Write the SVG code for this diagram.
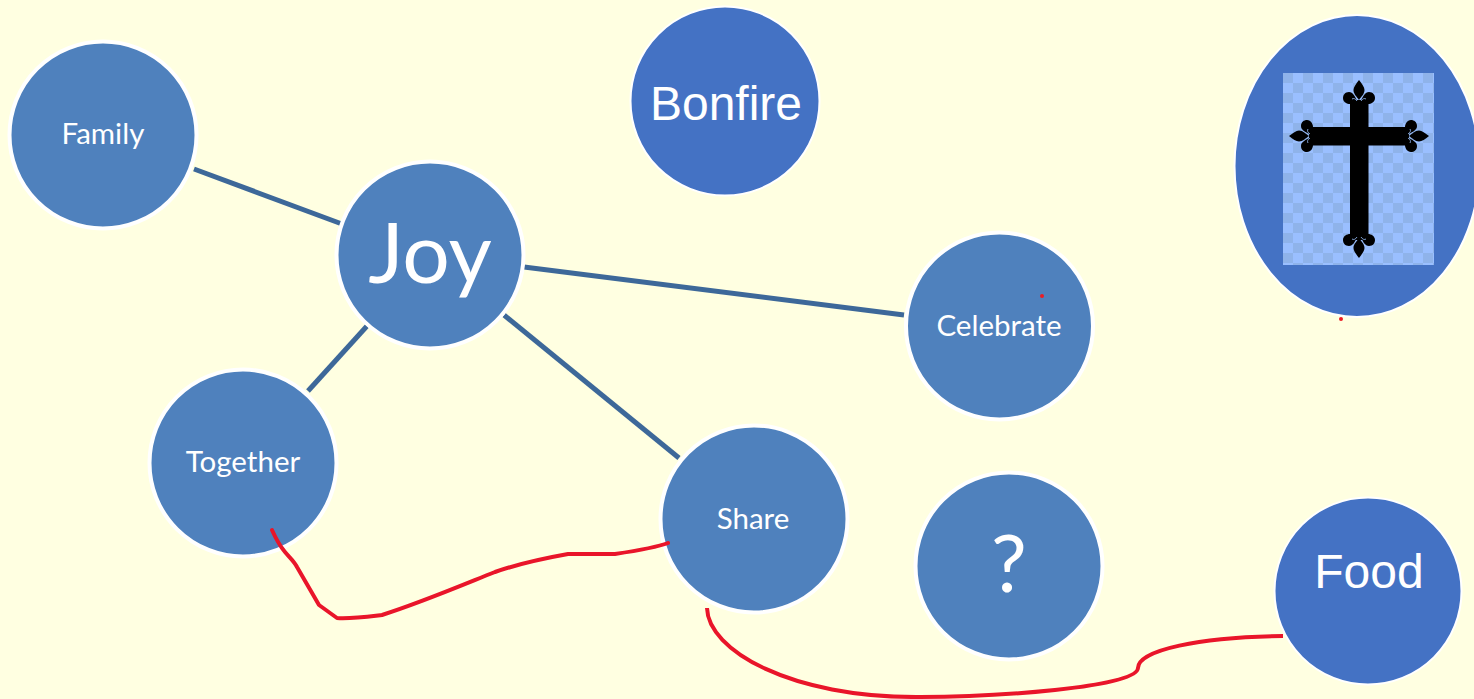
<svg xmlns="http://www.w3.org/2000/svg" width="1474" height="699" viewBox="0 0 1474 699">
<style>
.n{fill:#4f81bd;stroke:#fff;stroke-width:4}
.b{fill:#4472c4;stroke:#fff;stroke-width:2}
.l{stroke:#3d6899;stroke-width:5;fill:none}
.r{stroke:#e9152a;stroke-width:4;fill:none;stroke-linejoin:round}
text{fill:#fff;text-anchor:middle}
.c{font-family:Lato,"Open Sans",sans-serif;font-size:29.5px}
.a{font-family:"Liberation Sans",Arial,sans-serif;font-size:48px}
</style>
<defs>
<pattern id="chk" x="1283" y="73" width="20" height="20" patternUnits="userSpaceOnUse">
<rect width="20" height="20" fill="#9abfff"/>
<rect width="10" height="10" fill="#8fb3ea"/>
<rect x="10" y="10" width="10" height="10" fill="#8fb3ea"/>
</pattern>
<g id="fleur">
<path d="M0 -22C-3 -18 -5.500 -15 -5.500 -12C-5.500 -8 -2 -5 0 -2C2 -5 5.500 -8 5.500 -12C5.500 -15 3 -18 0 -22Z" fill="#000"/>
<path d="M-1 1C-4 -6 -6 -10 -10 -10C-14 -10 -16 -7 -16 -4C-16 0 -12 2 -9 2L9 2C12 2 16 0 16 -4C16 -7 14 -10 10 -10C6 -10 4 -6 1 1Z" fill="#000"/>
<path d="M-7 -3C-5.500 -4 -3.500 -3.500 -2 -1M7 -3C5.500 -4 3.500 -3.500 2 -1" fill="none" stroke="#8fb3ea" stroke-width="0.9"/>
</g>
</defs>
<rect width="1474" height="699" fill="#ffffe1"/>
<g id="connectors">
<path class="l" d="M194 169L342 224"/>
<path class="l" d="M524 267L904 315"/>
<path class="l" d="M367 326L308 391"/>
<path class="l" d="M504 315L679 458"/>
</g>
<g id="node-family"><circle class="n" cx="103" cy="135" r="93.500"/><text class="c" x="103" y="144">Family</text></g>
<g id="node-joy"><circle class="n" cx="430" cy="255" r="93.500"/><text x="430" y="283" style="font-family:Lato,'Open Sans',sans-serif;font-size:84px">Joy</text></g>
<g id="node-together"><circle class="n" cx="243" cy="463" r="93.500"/><text class="c" x="243" y="472">Together</text></g>
<g id="node-share"><circle class="n" cx="754" cy="519" r="93.500"/><text class="c" x="753" y="529">Share</text></g>
<g id="node-celebrate"><circle class="n" cx="999.500" cy="326" r="93.500"/><text class="c" x="999" y="336">Celebrate</text></g>
<g id="node-question"><circle class="n" cx="1009" cy="566" r="93.500"/><text x="1009" y="592" style="font-family:Lato,'Open Sans',sans-serif;font-size:80px">?</text></g>
<g id="node-bonfire"><circle class="b" cx="725" cy="101" r="94.500"/><text class="a" x="726" y="120">Bonfire</text></g>
<g id="node-food"><circle class="b" cx="1368" cy="591" r="93.500"/><text class="a" x="1369" y="588">Food</text></g>
<g id="node-cross">
<ellipse class="b" cx="1357" cy="166" rx="122.500" ry="151"/>
<rect x="1283" y="73" width="151" height="192" fill="url(#chk)"/>
<rect x="1350" y="100" width="18.500" height="140" fill="#000"/>
<rect x="1309" y="127" width="100" height="18.500" fill="#000"/>
<use href="#fleur" transform="translate(1359 102)"/>
<use href="#fleur" transform="translate(1359 236) rotate(180)"/>
<use href="#fleur" transform="translate(1311 136) rotate(-90)"/>
<use href="#fleur" transform="translate(1407 136) rotate(90)"/>
</g>
<g id="annotations">
<path class="r" stroke-linecap="round" d="M272 530C276 539 280 546 285 552C290 558 294 561 297 567L319 605L337 618C350 619 365 617 382 615C420 603 460 586 495 572C515 565 540 559 568 554L615 554C635 551 655 548 668 543"/>
<path class="r" d="M707 608C708 650 790 698 920 697C990 697 1137 688 1138 668C1138 650 1200 637 1283 636"/>
<circle cx="1042" cy="296" r="2" fill="#ed1c24"/>
<circle cx="1341" cy="319" r="2" fill="#ed1c24"/>
</g>
</svg>
